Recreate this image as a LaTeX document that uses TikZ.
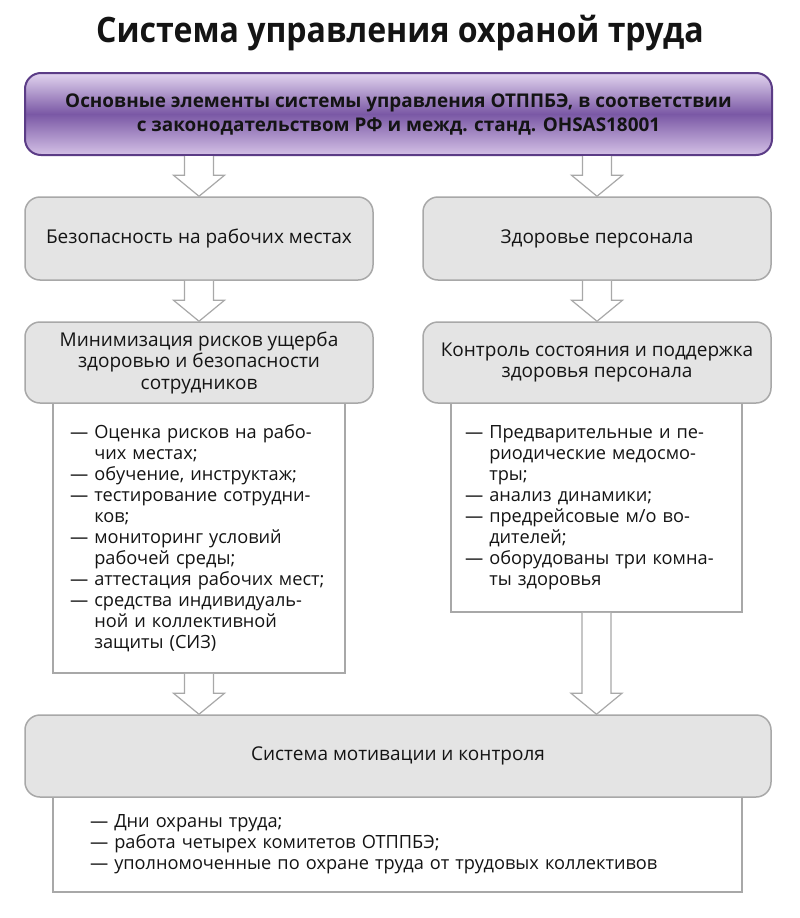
\documentclass[tikz,border=0pt]{standalone}
\usepackage{fontspec}
\usepackage{graphicx}
\setmainfont{Open Sans}
\usetikzlibrary{calc}
\definecolor{gfill}{HTML}{E4E4E4}
\definecolor{gline}{HTML}{A8A8A8}
\definecolor{ptop}{HTML}{E2D4EF}
\definecolor{pmid}{HTML}{7A58A5}
\definecolor{pbot}{HTML}{D4C1E6}
\definecolor{pline}{HTML}{5B3C86}
\tikzset{
  body/.style={font=\fontsize{18.2}{21}\selectfont, text=black!92},
  graybox/.style={font=\fontsize{19}{21.5}\selectfont, text=black!92, draw=gline, fill=gfill, line width=1.5pt, rounded corners=15pt, align=center, inner sep=0pt},
  listbox/.style={body, draw=gline, fill=white, line width=1.5pt, align=left, inner ysep=0pt},
  topbox/.style={draw=pline, line width=2pt, rounded corners=16pt, top color=ptop, bottom color=pbot, middle color=pmid, align=center, inner sep=0pt,
    font=\bfseries\fontsize{18.9}{24}\selectfont, text=black!92},
  blkarrow/.style={draw=gline, fill=white, line width=1.2pt, line join=miter}
}
\newcommand\blk[2]{\draw[blkarrow] let \p1=(#1), \p2=(#2) in
  (\x1-14.5pt,\y1) -- (\x1-14.5pt,\y2+21pt) -- (\x1-25.5pt,\y2+21pt) -- (\x2,\y2)
  -- (\x1+25.5pt,\y2+21pt) -- (\x1+14.5pt,\y2+21pt) -- (\x1+14.5pt,\y1);}
\newcommand\ind{\hphantom{— }}
\begin{document}
\begin{tikzpicture}[x=1pt,y=-1pt]
\useasboundingbox[fill=white] (0,0) rectangle (800,918);
\node[font=\bfseries\fontsize{35}{40}\selectfont, text=black!92] (title) at (400,33) {\scalebox{0.916}[1]{Система управления охраной труда}};
\node[topbox, minimum width=747pt, minimum height=82pt] (top) at (398.5,114)
  {Основные элементы системы управления ОТППБЭ, в соответствии\\ с законодательством РФ и межд. станд. OHSAS18001};
\node[graybox, minimum width=348pt, minimum height=83pt] (b1) at (199,238.5) {Безопасность на рабочих местах};
\node[graybox, minimum width=348pt, minimum height=83pt] (b2) at (597,238.5) {Здоровье персонала};
% list boxes first (under gray boxes)
\node[listbox, text width=258pt, inner xsep=17pt, minimum height=270pt] (l1) at (199,538)
  {— Оценка рисков на рабо-\\\ind чих местах;\\— обучение, инструктаж;\\— тестирование сотрудни-\\\ind ков;\\— мониторинг условий\\\ind рабочей среды;\\— аттестация рабочих мест;\\— средства индивидуаль-\\\ind ной и коллективной\\\ind защиты (СИЗ)\\[-6pt]};
\node[listbox, text width=263pt, inner xsep=14pt, minimum height=209pt] (l2) at (596.5,507.5)
  {— Предварительные и пе-\\\ind риодические медосмо-\\\ind тры;\\— анализ динамики;\\— предрейсовые м/о во-\\\ind дителей;\\— оборудованы три комна-\\\ind ты здоровья};
\node[listbox, text width=615pt, inner xsep=37pt, minimum height=95pt] (l3) at (397.5,844.5)
  {— Дни охраны труда;\\— работа четырех комитетов ОТППБЭ;\\— уполномоченные по охране труда от трудовых коллективов};
\node[graybox, minimum width=348pt, minimum height=81pt] (m1) at (199,362.5) {Минимизация рисков ущерба\\здоровью и безопасности\\сотрудников};
\node[graybox, minimum width=348pt, minimum height=81pt] (m2) at (597,362.5) {Контроль состояния и поддержка\\здоровья персонала};
\node[graybox, minimum width=746pt, minimum height=82pt] (bm) at (398,756) {Система мотивации и контроля};
% arrows
\blk{top.south -| b1.north}{b1.north}
\blk{top.south -| b2.north}{b2.north}
\blk{b1.south}{m1.north}
\blk{b2.south}{m2.north}
\blk{l1.south}{bm.north -| l1.south}
\blk{l2.south}{bm.north -| l2.south}
\end{tikzpicture}
\end{document}
